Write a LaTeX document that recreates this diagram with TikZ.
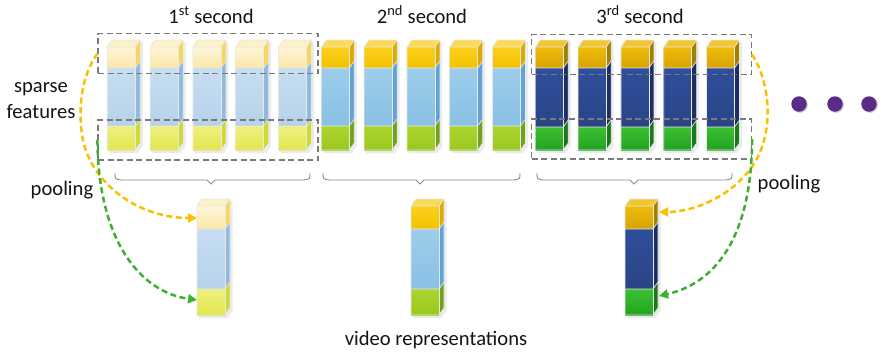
\documentclass[tikz,border=0pt]{standalone}
\usepackage{fontspec}
\setmainfont{Carlito}
\usetikzlibrary{arrows.meta,shadows}

% colour sets: A = pale (1st second), B = bright (2nd), C = dark (3rd)
% T = top block, M = middle block, B = bottom block
% 1/2 = front gradient top/bottom, F = top face, S = side face
\definecolor{AT1}{HTML}{FEF6DA}\definecolor{AT2}{HTML}{FAE7A5}
\definecolor{ATF}{HTML}{FDF1C6}\definecolor{ATS}{HTML}{F7D65A}
\definecolor{AM1}{HTML}{C8DEF1}\definecolor{AM2}{HTML}{B5D2EB}
\definecolor{AMS}{HTML}{90BBE0}
\definecolor{AB1}{HTML}{EEF17E}\definecolor{AB2}{HTML}{E1E54E}
\definecolor{ABS}{HTML}{CFD92E}

\definecolor{BT1}{HTML}{FBCF1C}\definecolor{BT2}{HTML}{F3C200}
\definecolor{BTF}{HTML}{FBDA55}\definecolor{BTS}{HTML}{DFA900}
\definecolor{BM1}{HTML}{9FCDEB}\definecolor{BM2}{HTML}{88C0E4}
\definecolor{BMS}{HTML}{5EA4D8}
\definecolor{BB1}{HTML}{ACD42E}\definecolor{BB2}{HTML}{9AC81E}
\definecolor{BBS}{HTML}{6FA318}

\definecolor{CT1}{HTML}{EEBC0C}\definecolor{CT2}{HTML}{D8A200}
\definecolor{CTF}{HTML}{F2C631}\definecolor{CTS}{HTML}{A38100}
\definecolor{CM1}{HTML}{2F4E9C}\definecolor{CM2}{HTML}{2A4486}
\definecolor{CMS}{HTML}{1C2E63}
\definecolor{CB1}{HTML}{3CC030}\definecolor{CB2}{HTML}{22A322}
\definecolor{CBS}{HTML}{1A7A1A}

\definecolor{poolyellow}{HTML}{FAC000}
\definecolor{poolgreen}{HTML}{3DB030}
\definecolor{dotpurple}{HTML}{5B2C87}

% column geometry: front width, depth offset right, depth offset up
\newcommand\colW{28}
\newcommand\colD{5}
\newcommand\colH{7}

% \stackcol{x left}{colour set}{y top}{y top/mid}{y mid/bottom}{y bottom}
\newcommand\stackcol[6]{%
  \fill[black, opacity=0.08]
    (#1+2,#3-\colH+2) -- (#1+\colW+\colD+2.5,#3-\colH+2)
    -- (#1+\colW+\colD+2.5,#6-\colH+3) -- (#1+\colW+2.5,#6+3)
    -- (#1+2,#6+3) -- cycle;
  \fill[#2TS] (#1+\colW,#3) -- (#1+\colW+\colD,#3-\colH)
    -- (#1+\colW+\colD,#4-\colH) -- (#1+\colW,#4) -- cycle;
  \fill[#2MS] (#1+\colW,#4) -- (#1+\colW+\colD,#4-\colH)
    -- (#1+\colW+\colD,#5-\colH) -- (#1+\colW,#5) -- cycle;
  \fill[#2BS] (#1+\colW,#5) -- (#1+\colW+\colD,#5-\colH)
    -- (#1+\colW+\colD,#6-\colH) -- (#1+\colW,#6) -- cycle;
  \fill[#2TF] (#1,#3) -- (#1+\colD,#3-\colH)
    -- (#1+\colW+\colD,#3-\colH) -- (#1+\colW,#3) -- cycle;
  \shade[top color=#2T1, bottom color=#2T2] (#1,#3) rectangle (#1+\colW,#4);
  \shade[top color=#2M1, bottom color=#2M2] (#1,#4) rectangle (#1+\colW,#5);
  \shade[top color=#2B1, bottom color=#2B2] (#1,#5) rectangle (#1+\colW,#6);
  \draw[cell] (#1,#3) -- (#1+\colD,#3-\colH) -- (#1+\colW+\colD,#3-\colH)
    -- (#1+\colW+\colD,#6-\colH) -- (#1+\colW,#6) -- (#1,#6) -- cycle;
  \draw[cell] (#1,#3) -- (#1+\colW,#3) -- (#1+\colW+\colD,#3-\colH);
  \draw[cell] (#1+\colW,#3) -- (#1+\colW,#6);
  \draw[cell] (#1,#4) -- (#1+\colW,#4) -- (#1+\colW+\colD,#4-\colH);
  \draw[cell] (#1,#5) -- (#1+\colW,#5) -- (#1+\colW+\colD,#5-\colH);
}

% \groupbrace{x left}{x right}{x tip}
\newcommand\groupbrace[3]{%
  \draw[bracepath] (#1,173) .. controls (#1,179) .. (#1+6,180)
    -- (#3-4,180) -- (#3,184) -- (#3+4,180) -- (#2-6,180)
    .. controls (#2,179) .. (#2,173);
}

\tikzset{
  cell/.style={draw=white!82!gray, line width=0.7pt, line join=round},
  selbox/.style={draw=black!52, line width=1.1pt,
    dash pattern=on 6pt off 3.5pt, minimum width=220pt,
    minimum height=40pt, inner sep=0pt},
  poolarrow/.style={line width=2.5pt, dash pattern=on 6pt off 3.5pt,
    -{Triangle[length=9pt,width=9pt]}},
  lbl/.style={font=\fontsize{20.6}{24}\selectfont, text=black!92,
    inner sep=0pt, align=center},
  bracepath/.style={draw=black!45, line width=0.9pt},
  dot/.style={circle, fill=dotpurple, minimum size=15.5pt, inner sep=0pt,
    drop shadow={shadow xshift=1.2pt, shadow yshift=-1.2pt, opacity=0.35}},
}

\begin{document}
\begin{tikzpicture}[x=1pt, y=-1pt]
  \useasboundingbox (0,0) rectangle (881,354);

  % per-frame feature columns, three seconds of five frames each
  \foreach \i in {0,...,4} {
    \pgfmathsetmacro\xa{107.3+42.8*\i}
    \pgfmathsetmacro\xb{107.3+42.8*(\i+5)}
    \pgfmathsetmacro\xc{107.3+42.8*(\i+10)}
    \stackcol{\xa}{A}{47}{68}{126}{150}
    \stackcol{\xb}{B}{47}{68}{126}{150}
    \stackcol{\xc}{C}{47}{68}{127}{150}
  }

  % pooled video representations
  \stackcol{197}{A}{206}{229}{289}{315}
  \stackcol{411}{B}{206}{229}{289}{315}
  \stackcol{625}{C}{206}{229}{289}{315}

  % named ends of the pooling arrows
  \coordinate (p1top) at (197,218);
  \coordinate (p1bot) at (197,300);
  \coordinate (p3top) at (659,212);
  \coordinate (p3bot) at (659,296);

  % sparse feature selections
  \node[selbox] (s1top) at (208,53.5) {};
  \node[selbox] (s1bot) at (208,140) {};
  \node[selbox] (s3top) at (641.5,54.5) {};
  \node[selbox] (s3bot) at (641.5,139) {};

  % braces grouping each second
  \groupbrace{115}{310}{211}
  \groupbrace{323}{520}{420}
  \groupbrace{537}{732}{634}

  % pooling arrows
  \draw[poolarrow, poolyellow] (s1top.west)
    .. controls (82,75) and (78,105) .. (82,135)
    .. controls (90,185) and (140,218) .. (p1top);
  \draw[poolarrow, poolgreen] (s1bot.west)
    .. controls (98,240) and (140,292) .. (p1bot);
  \draw[poolarrow, poolyellow] (s3top.east)
    .. controls (772,85) and (775,140) .. (748,172)
    .. controls (725,200) and (690,212) .. (p3top);
  \draw[poolarrow, poolgreen] (s3bot.east)
    .. controls (752,230) and (720,282) .. (p3bot);

  % continuation dots
  \node[dot] (dot1) at (799,104) {};
  \node[dot] (dot2) at (835,104) {};
  \node[dot] (dot3) at (869,104) {};

  % labels
  \node[lbl, anchor=base] (t1) at (211,23) {1\textsuperscript{st} second};
  \node[lbl, anchor=base] (t2) at (422,23) {2\textsuperscript{nd} second};
  \node[lbl, anchor=base] (t3) at (640,23) {3\textsuperscript{rd} second};
  \node[lbl, anchor=base] (sp) at (41,92) {sparse};
  \node[lbl, anchor=base] (fe) at (41,118) {features};
  \node[lbl, anchor=base] (pl) at (62,195) {pooling};
  \node[lbl, anchor=base] (pr) at (789,189) {pooling};
  \node[lbl, anchor=base] (vr) at (436,345) {video representations};
\end{tikzpicture}
\end{document}
